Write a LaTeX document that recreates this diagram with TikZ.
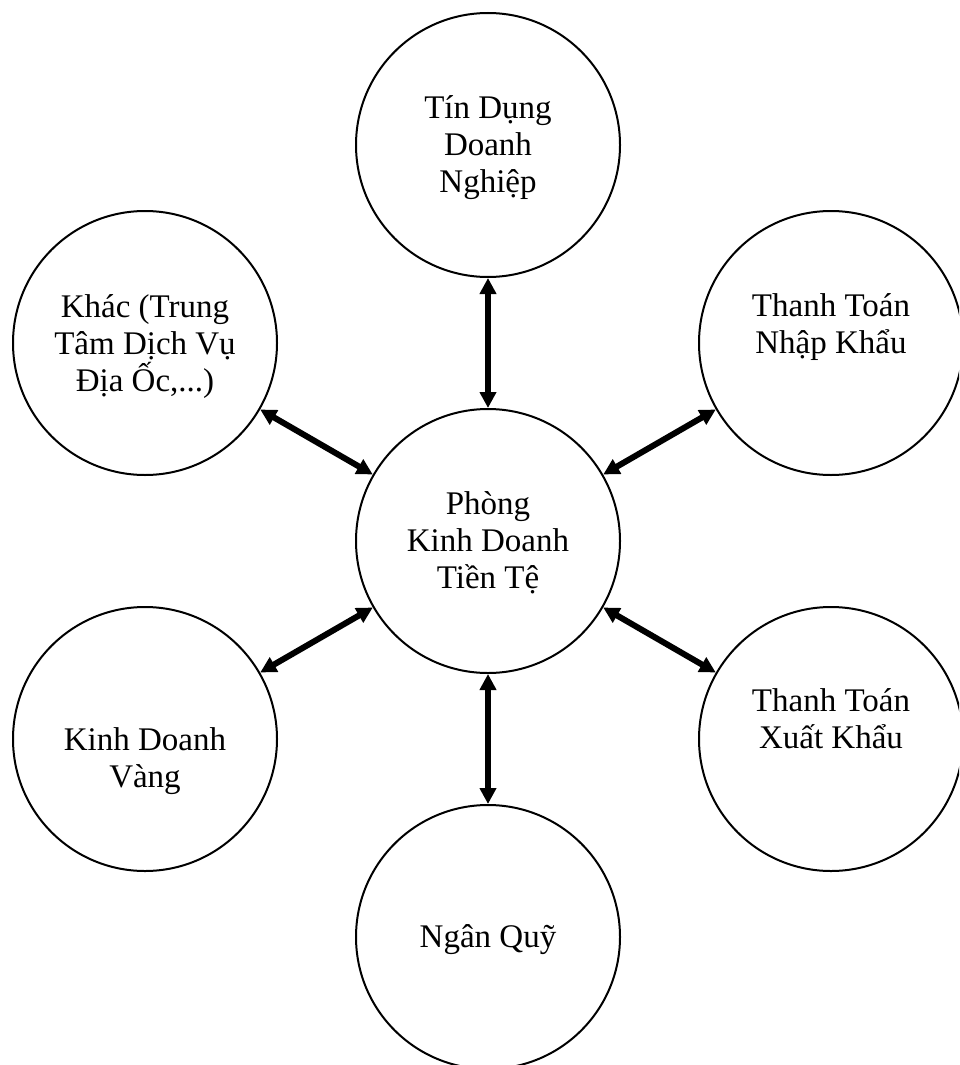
\documentclass[tikz,border=0pt]{standalone}
\usepackage{fontspec}
\setmainfont{Liberation Serif}
\usetikzlibrary{arrows.meta}
\begin{document}
\begin{tikzpicture}[x=1pt,y=-1pt,
  unit/.style={circle,draw,line width=2pt,minimum size=264pt,inner sep=0pt},
  lbl/.style={align=center,anchor=base,inner sep=0pt,font=\fontsize{33}{37}\selectfont},
  link/.style={line width=6pt,{Triangle[length=16pt,width=16pt]}-{Triangle[length=16pt,width=16pt]}}]
\clip (0,0) rectangle (959,1065);
\node[unit] (c)  at (488,541) {};
\node[unit] (t)  at (488,145) {};
\node[unit] (tl) at (145,343) {};
\node[unit] (tr) at (831,343) {};
\node[unit] (bl) at (145,739) {};
\node[unit] (br) at (831,739) {};
\node[unit] (b)  at (488,937) {};
\node[lbl] (lc)  at (488,588) {Phòng\\Kinh Doanh\\Tiền Tệ};
\node[lbl] (lt)  at (488,192) {Tín Dụng\\Doanh\\Nghiệp};
\node[lbl] (ltl) at (145,391) {Khác (Trung\\Tâm Dịch Vụ\\Địa Ốc,...)};
\node[lbl] (ltr) at (831,353) {Thanh Toán\\Nhập Khẩu};
\node[lbl] (lbl) at (145,787) {Kinh Doanh\\Vàng};
\node[lbl] (lbr) at (831,748) {Thanh Toán\\Xuất Khẩu};
\node[lbl] (lb)  at (488,947) {Ngân Quỹ};
\draw[link] (c) -- (t);
\draw[link] (c) -- (tl);
\draw[link] (c) -- (tr);
\draw[link] (c) -- (bl);
\draw[link] (c) -- (br);
\draw[link] (c) -- (b);
\end{tikzpicture}
\end{document}
